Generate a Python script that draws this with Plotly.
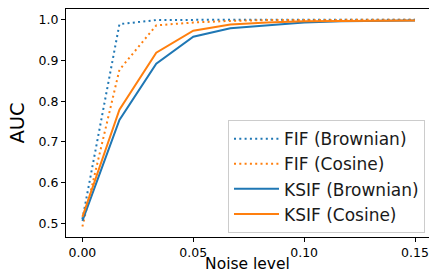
import plotly.graph_objects as go

noise = [0.0, 0.0167, 0.0333, 0.05, 0.0667, 0.0833, 0.1, 0.1167, 0.1333, 0.15]
fif_brownian = [0.510, 0.989, 0.999, 1.0, 1.0, 1.0, 1.0, 1.0, 1.0, 1.0]
fif_cosine = [0.492, 0.877, 0.986, 0.993, 0.997, 0.999, 0.999, 1.0, 1.0, 1.0]
ksif_brownian = [0.506, 0.754, 0.892, 0.958, 0.979, 0.986, 0.993, 0.996, 0.997, 0.998]
ksif_cosine = [0.516, 0.779, 0.919, 0.973, 0.988, 0.993, 0.996, 0.997, 0.998, 0.998]

x_ticks = [0.0, 0.05, 0.10, 0.15]
x_tick_labels = ["0.00", "0.05", "0.10", "0.15"]
y_ticks = [0.5, 0.6, 0.7, 0.8, 0.9, 1.0]
y_tick_labels = ["0.5", "0.6", "0.7", "0.8", "0.9", "1.0"]

BLUE = "#1f77b4"
ORANGE = "#ff7f0e"
DOT = "2px,3.3px"

fig = go.Figure()
fig.add_trace(go.Scatter(x=noise, y=fif_brownian, mode="lines", name="FIF (Brownian)",
                         line=dict(color=BLUE, width=2, dash=DOT)))
fig.add_trace(go.Scatter(x=noise, y=fif_cosine, mode="lines", name="FIF (Cosine)",
                         line=dict(color=ORANGE, width=2, dash=DOT)))
fig.add_trace(go.Scatter(x=noise, y=ksif_brownian, mode="lines", name="KSIF (Brownian)",
                         line=dict(color=BLUE, width=2)))
fig.add_trace(go.Scatter(x=noise, y=ksif_cosine, mode="lines", name="KSIF (Cosine)",
                         line=dict(color=ORANGE, width=2)))

font = "DejaVu Sans"
fig.update_layout(
    width=429, height=273,
    margin=dict(l=66, r=0, t=9, b=36),
    paper_bgcolor="white", plot_bgcolor="white",
    font=dict(family=font, color="black", size=12.5),
    showlegend=True,
    legend=dict(
        x=0.989, y=0.017, xanchor="right", yanchor="bottom",
        bgcolor="rgba(255,255,255,0.8)", bordercolor="#cccccc", borderwidth=1,
        font=dict(family=font, size=17, color="#1a1a1a"),
        itemwidth=45,
    ),
)
fig.update_xaxes(
    range=[-0.0074, 0.1563], tickvals=x_ticks, ticktext=x_tick_labels,
    showgrid=False, zeroline=False, showline=True, linecolor="black", linewidth=1.3,
    mirror=True, ticks="outside", ticklen=4, tickcolor="black", tickwidth=1,
    tickfont=dict(size=12.5), automargin=False,
    title=dict(text="Noise level", font=dict(size=15.5), standoff=0),
)
fig.update_yaxes(
    range=[0.4664, 1.0262], tickvals=y_ticks, ticktext=y_tick_labels,
    showgrid=False, zeroline=False, showline=True, linecolor="black", linewidth=1.3,
    mirror=True, ticks="outside", ticklen=4, tickcolor="black", tickwidth=1,
    tickfont=dict(size=12.5), automargin=False,
    title=dict(text="AUC", font=dict(size=19.5), standoff=8),
)

fig.write_html("out.html", config={"displayModeBar": False},
               post_script="document.body.style.margin='0';document.body.style.overflow='hidden';")
